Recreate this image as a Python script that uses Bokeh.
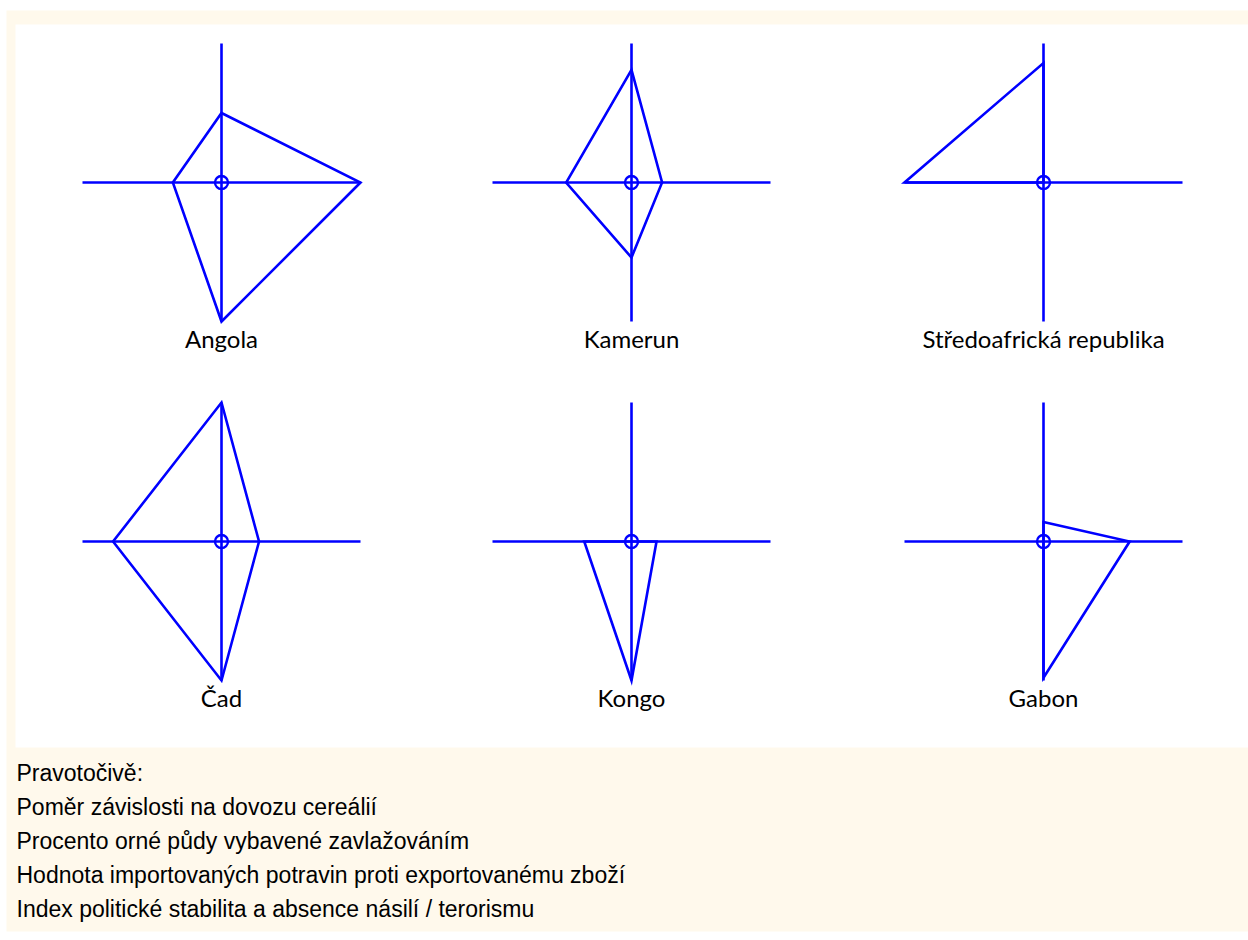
from bokeh.plotting import figure
from bokeh.models import Range1d
from bokeh.core.properties import value
from bokeh.embed import file_html
from bokeh.resources import INLINE

# ---- data (normalised 0..1 per indicator) ----
countries = ["Angola", "Kamerun", "Středoafrická republika", "Čad", "Kongo", "Gabon"]
# clockwise from the top
cereal_dependency = [0.50, 0.81, 0.86, 1.00, 0.00, 0.14]      # top
irrigated_land = [1.00, 0.22, 0.00, 0.27, 0.18, 0.62]         # right
food_imports = [1.00, 0.54, 0.00, 1.00, 1.00, 0.98]           # bottom
political_stability = [0.35, 0.47, 1.00, 0.78, 0.34, 0.00]    # left

legend_lines = [
    "Pravotočivě:",
    "Poměr závislosti na dovozu cereálií",
    "Procento orné půdy  vybavené  zavlažováním",
    "Hodnota importovaných potravin proti exportovanému zboží",
    "Index   politické stabilita a absence násilí / terorismu",
]

# ---- layout (page pixel coordinates) ----
W, H = 1248, 934
col_x = [221, 631, 1043]
row_y = [182, 541]
R = 139
BLUE = "#0000FF"
CREAM = "#FFF9EC"

p = figure(width=W, height=H, output_backend="svg", toolbar_location=None,
           x_range=Range1d(0, W), y_range=Range1d(H, 0),
           min_border=0, outline_line_color=None, background_fill_color="white",
           border_fill_color="white")
p.axis.visible = False
p.grid.visible = False

p.quad(left=[6], right=[1248], top=[10], bottom=[931], fill_color=CREAM, line_color=None)
p.quad(left=[15], right=[1248], top=[24], bottom=[747], fill_color="white", line_color=None)

cxs, cys = [], []
for i in range(len(countries)):
    cxs.append(col_x[i % 3])
    cys.append(row_y[i // 3])

# axes
ax_x0, ax_x1, ax_y0, ax_y1 = [], [], [], []
for cx, cy in zip(cxs, cys):
    ax_x0 += [cx - R, cx]
    ax_x1 += [cx + R, cx]
    ax_y0 += [cy, cy - R]
    ax_y1 += [cy, cy + R]
p.segment(x0=ax_x0, y0=ax_y0, x1=ax_x1, y1=ax_y1, line_color=BLUE, line_width=2.6)

# polygons
xs, ys = [], []
for i, (cx, cy) in enumerate(zip(cxs, cys)):
    xs.append([cx, cx + irrigated_land[i] * R, cx, cx - political_stability[i] * R])
    ys.append([cy - cereal_dependency[i] * R, cy, cy + food_imports[i] * R, cy])
p.patches(xs=xs, ys=ys, fill_color=None, line_color=BLUE, line_width=2.6, line_join="miter")

# centre markers
p.scatter(x=cxs, y=cys, marker="circle", size=13, fill_color=None, line_color=BLUE, line_width=2.4)

# country labels
p.text(x=cxs, y=[cy + 156 for cy in cys], text=countries, text_align="center",
       text_baseline="middle", text_font=value("Lato"), text_font_size="24px",
       text_color="#000000")

# legend text
p.text(x=[16] * len(legend_lines), y=[772 + 34 * k for k in range(len(legend_lines))],
       text=legend_lines, text_align="left", text_baseline="middle",
       text_font=value("Liberation Sans"), text_font_size="23px", text_color="#000000")

open("out.html", "w").write(file_html(p, INLINE))
